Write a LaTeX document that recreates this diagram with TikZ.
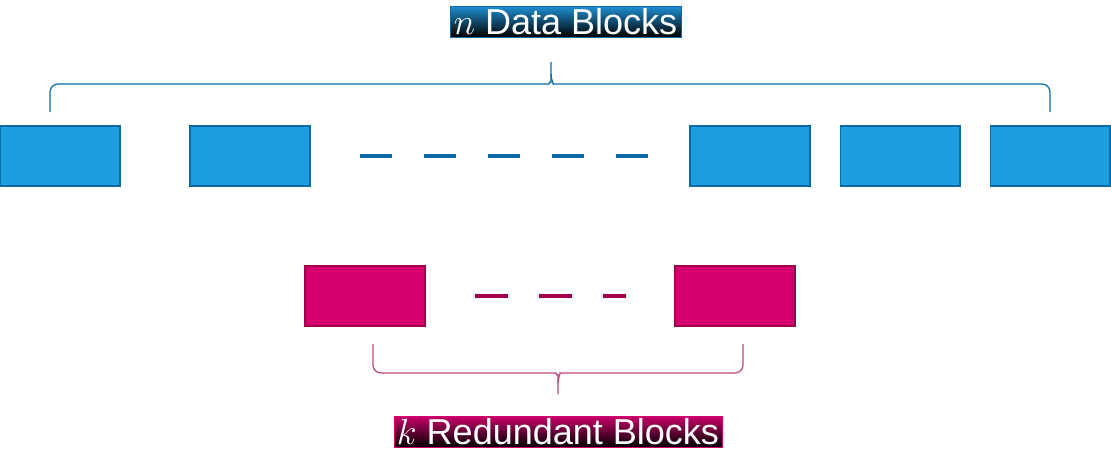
\documentclass[tikz,border=0pt]{standalone}
\usepackage{fontspec}
\setmainfont{Liberation Sans}
\definecolor{blkblue}{RGB}{28,159,224}
\definecolor{edgeblue}{RGB}{11,106,168}
\definecolor{blkred}{RGB}{214,0,110}
\definecolor{edgered}{RGB}{160,0,74}
\definecolor{bracered}{RGB}{190,70,125}
\tikzset{
  datablk/.style={draw=edgeblue, fill=blkblue, line width=0.6pt, minimum width=2.4cm, minimum height=1.2cm, inner sep=0pt, outer sep=0pt},
  redblk/.style={draw=edgered, fill=blkred, line width=0.6pt, minimum width=2.4cm, minimum height=1.2cm, inner sep=0pt, outer sep=0pt},
  dasha/.style={edgeblue, line width=2.2pt},
  dashb/.style={edgered, line width=2.2pt},
  bracea/.style={edgeblue, line width=0.7pt, rounded corners=0.16cm},
  braceb/.style={bracered, line width=0.7pt, rounded corners=0.16cm},
  lbl/.style={text=white, inner sep=0pt, minimum height=0.62cm, font=\fontsize{20.5}{24}\selectfont},
}
\begin{document}
  \begin{tikzpicture}[x=0.02cm, y=-0.02cm]
    \useasboundingbox (0,0) rectangle (1111,453);
    % data blocks
    \node[datablk] (blk1) at (60,156) {};
    \node[datablk] (blk2) at (250,156) {};
    \node[datablk] (blk3) at (750,156) {};
    \node[datablk] (blk4) at (900,156) {};
    \node[datablk] (blk5) at (1050,156) {};
    \foreach \x in {360,424,488,552,616}
      \draw[dasha] (\x,156) -- ++(32,0);
    % redundant blocks
    \node[redblk] (red1) at (365,296) {};
    \node[redblk] (red2) at (735,296) {};
    \draw[dashb] (475,296) -- ++(33,0);
    \draw[dashb] (539,296) -- ++(33,0);
    \draw[dashb] (603,296) -- ++(23,0);
    % braces
    \draw[bracea] (50,112) |- (541,84) .. controls (548,84) and (551,80) .. (551,74) -- (551,62);
    \draw[bracea] (1050,112) |- (561,84) .. controls (554,84) and (551,80) .. (551,74);
    \draw[braceb] (373,344) |- (548,373) .. controls (555,373) and (558,377) .. (558,383) -- (558,394);
    \draw[braceb] (743,344) |- (568,373) .. controls (561,373) and (558,377) .. (558,383);
    % notation
    \node[lbl, draw=edgeblue, top color={rgb,255:red,31;green,143;blue,210}, bottom color=black,
      minimum width=4.62cm] (ndata) at (565.5,21.5) {$n$ Data Blocks};
    \node[lbl, draw=blkred, top color={rgb,255:red,200;green,0;blue,106}, bottom color=black,
      minimum width=6.56cm] (kred) at (558,431.5) {$k$ Redundant Blocks};
  \end{tikzpicture}
\end{document}
